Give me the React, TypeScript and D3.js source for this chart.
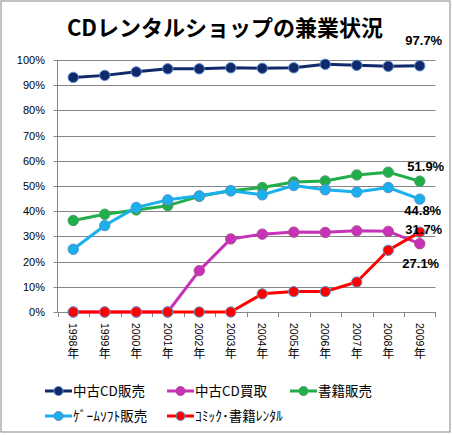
import React from "react";
import * as d3 from "d3";

const years = ["1998年","1999年","2000年","2001年","2002年","2003年","2004年","2005年","2006年","2007年","2008年","2009年"];
const yTicks = [0, 0.1, 0.2, 0.3, 0.4, 0.5, 0.6, 0.7, 0.8, 0.9, 1.0];

const usedCdSales = [93.1, 93.9, 95.3, 96.5, 96.5, 96.9, 96.7, 96.9, 98.3, 97.9, 97.5, 97.7];
const usedCdBuy = [0, 0, 0, 0, 16.4, 29.0, 30.9, 31.7, 31.6, 32.2, 32.0, 27.1];
const bookSales = [36.3, 38.8, 40.5, 42.2, 45.9, 48.1, 49.4, 51.6, 52.0, 54.4, 55.5, 51.9];
const gameSales = [24.9, 34.3, 41.5, 44.5, 46.1, 48.1, 46.5, 50.2, 48.5, 47.6, 49.4, 44.8];
const comicRental = [0, 0, 0, 0, 0, 0, 7.2, 8.1, 8.1, 11.9, 24.5, 31.7];

const seriesNames = ["中古CD販売", "中古CD買取", "書籍販売", "ｹﾞｰﾑｿﾌﾄ販売", "ｺﾐｯｸ･書籍ﾚﾝﾀﾙ"];
const seriesValues = [usedCdSales, usedCdBuy, bookSales, gameSales, comicRental];
const seriesColors = ["#10296b", "#c832b8", "#1fae4a", "#19b1eb", "#ff0000"];
const markerStrokes = ["#5b8fd0", "#b04c8c", "#4aa06a", "#5b8fd0", "#5b9bd5"];
// label offsets from the last point (px)
const labelDy = [-25, 20, -15, 11, -3];
const labelDx = [4, 1, 6, 3, 4];

const W = 452, H = 435;
const left = 57.5, right = 435.5, top = 60, bottom = 312;

export default function App() {
  const x = d3.scaleBand<string>().domain(years).range([left, right]);
  const cx = (i: number) => (x(years[i]) as number) + x.bandwidth() / 2;
  const y = d3.scaleLinear().domain([0, 1]).range([bottom, top]);
  const line = d3.line<number>().x((_, i) => cx(i)).y((v) => y(v / 100));
  const pct = d3.format(".0%");
  const order = [0, 1, 2, 3, 4];
  const legendPos = [
    [45, 391], [167, 391], [290, 391], [45, 416], [167, 416],
  ];
  const labelSeries = [0, 2, 3, 4, 1];

  return (
    <svg width={W} height={H} style={{ position: "absolute", left: 0, top: 0, background: "#fff" }}
      fontFamily="'Liberation Sans', Arial, sans-serif">
      <rect x={1} y={1} width={449} height={431} fill="#fff" stroke="#868686" strokeWidth={1} />
      <text x={225} y={36} textAnchor="middle" fontSize={22} fontWeight="bold"
        fontFamily="'Noto Sans CJK JP', sans-serif">CDレンタルショップの兼業状況</text>

      {yTicks.map((t) => (
        <g key={t}>
          <line x1={left} x2={right} y1={Math.round(y(t)) + 0.5} y2={Math.round(y(t)) + 0.5} stroke="#868686" />
          <line x1={left - 4} x2={left} y1={Math.round(y(t)) + 0.5} y2={Math.round(y(t)) + 0.5} stroke="#868686" />
          <text x={45} y={y(t) + 4} textAnchor="end" fontSize={11} fill="#000">{pct(t)}</text>
        </g>
      ))}
      <line x1={left} x2={left} y1={top} y2={bottom + 0.5} stroke="#868686" />
      {years.map((yr) => (
        <line key={yr} x1={Math.round(x(yr) as number) + 0.5} x2={Math.round(x(yr) as number) + 0.5}
          y1={bottom} y2={bottom + 5} stroke="#868686" />
      ))}
      <line x1={right} x2={right} y1={bottom} y2={bottom + 5} stroke="#868686" />
      {years.map((yr, i) => {
        const digits = yr.slice(0, yr.length - 1);
        const suffix = yr.slice(yr.length - 1);
        return (
          <g key={yr} transform={`translate(${cx(i)},323)`}>
            <text transform="rotate(90)" x={0} y={3.8} fontSize={10.5} fill="#000">{digits}</text>
            <text x={0} y={35} textAnchor="middle" fontSize={12} fill="#000"
              fontFamily="'Noto Sans CJK JP', sans-serif">{suffix}</text>
          </g>
        );
      })}

      {order.map((s) => (
        <g key={s}>
          <path d={line(seriesValues[s]) as string} fill="none" stroke={seriesColors[s]} strokeWidth={3} strokeLinejoin="round" />
          {seriesValues[s].map((v, i) => (
            <circle key={i} cx={cx(i)} cy={y(v / 100)} r={5.2} fill={seriesColors[s]} stroke={markerStrokes[s]} strokeWidth={1} />
          ))}
        </g>
      ))}

      {labelSeries.map((s) => {
        const vals = seriesValues[s];
        const v = vals[vals.length - 1];
        return (
          <text key={s} x={cx(vals.length - 1) + labelDx[s]} y={y(v / 100) + labelDy[s] + 4.5}
            textAnchor="middle" fontSize={13} fontWeight="bold" fill="#000">{v.toFixed(1) + "%"}</text>
        );
      })}

      {seriesNames.map((n, s) => {
        const [lx, ly] = legendPos[s];
        return (
          <g key={n}>
            <line x1={lx} x2={lx + 27} y1={ly} y2={ly} stroke={seriesColors[s]} strokeWidth={3} />
            <circle cx={lx + 13.5} cy={ly} r={4.5} fill={seriesColors[s]} stroke={markerStrokes[s]} strokeWidth={1} />
            <text x={lx + 28} y={ly + 5} fontSize={13.5} fill="#000"
              fontFamily="'Noto Sans CJK JP', sans-serif">{n}</text>
          </g>
        );
      })}
    </svg>
  );
}
